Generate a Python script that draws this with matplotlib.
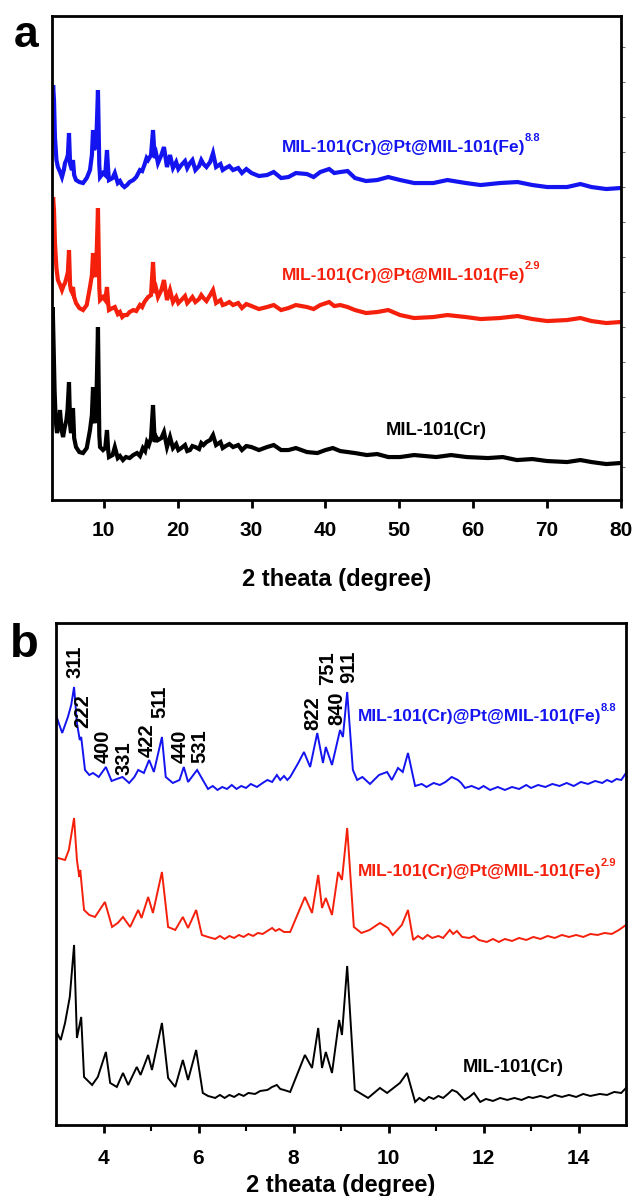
import numpy as np
import matplotlib.pyplot as plt

plt.rcParams['font.family'] = ['Liberation Sans', 'DejaVu Sans']
plt.rcParams['font.weight'] = 'bold'

BLUE = '#1414f0'
RED = '#f5200c'
BLACK = '#000000'

# ---- panel a : wide-angle scans (2theta 3-80), (2theta, intensity) ----
blue_a = [(3.0, 380), (3.15, 415), (3.27, 400), (3.4, 363), (3.6, 340), (3.8, 333), (4.1, 328),
          (4.35, 323), (4.6, 330), (4.76, 337), (4.95, 340), (5.15, 345), (5.3, 367), (5.45, 336),
          (5.57, 333), (5.7, 330), (5.84, 340), (6.0, 325), (6.25, 320), (6.7, 318), (7.2, 317),
          (7.7, 322), (8.14, 330), (8.4, 345), (8.55, 370), (8.7, 350), (8.82, 353), (9.0, 360),
          (9.22, 410), (9.4, 335), (9.5, 323), (9.9, 327), (10.2, 325), (10.44, 350), (10.6, 330),
          (10.71, 320), (11.2, 322), (11.5, 327), (11.9, 317), (12.2, 319), (12.5, 315), (12.8, 313),
          (13.15, 315), (13.5, 318), (14.0, 320), (14.4, 323), (14.9, 330), (15.2, 329), (15.5, 335),
          (15.8, 342), (16.0, 340), (16.4, 345), (16.67, 370), (16.9, 342), (17.1, 346), (17.34, 337),
          (17.8, 345), (18.15, 353), (18.56, 333), (18.97, 345), (19.37, 332), (19.8, 338), (20.1, 331),
          (20.5, 335), (21.0, 339), (21.3, 332), (21.67, 337), (22.0, 340), (22.4, 330), (22.9, 334),
          (23.2, 340), (23.5, 336), (23.9, 333), (24.4, 338), (24.79, 347), (25.2, 333), (25.8, 336),
          (26.1, 330), (26.5, 332), (27.0, 334), (27.5, 330), (28.2, 332), (28.7, 327), (29.3, 331),
          (30.0, 327), (31.0, 324), (32.1, 325), (33.0, 328), (34.0, 322), (35.0, 323), (36.0, 327),
          (37.5, 326), (38.4, 323), (39.3, 328), (40.5, 331), (41.2, 327), (42.0, 328), (43.0, 329),
          (44.0, 322), (45.5, 319), (47.0, 320), (48.5, 323), (50.1, 320), (52.0, 317), (54.6, 317),
          (56.5, 320), (59.0, 317), (61.0, 315), (63.6, 317), (66.0, 318), (68.0, 315), (70.0, 313),
          (72.7, 313), (74.5, 316), (76.0, 313), (78.0, 311), (79.9, 312)]

red_a = [(3.0, 285), (3.15, 303), (3.27, 290), (3.4, 257), (3.6, 232), (3.8, 220), (4.1, 215),
         (4.35, 210), (4.6, 215), (4.76, 217), (4.95, 222), (5.15, 228), (5.3, 250), (5.45, 215),
         (5.57, 210), (5.7, 208), (5.84, 213), (6.0, 203), (6.25, 197), (6.7, 192), (7.2, 190),
         (7.7, 195), (8.14, 213), (8.4, 225), (8.55, 247), (8.7, 228), (8.82, 223), (9.0, 235),
         (9.22, 292), (9.4, 212), (9.5, 200), (9.9, 203), (10.2, 200), (10.44, 213), (10.6, 197),
         (10.71, 190), (11.2, 192), (11.5, 193), (11.9, 186), (12.2, 188), (12.5, 183), (12.8, 185),
         (13.15, 185), (13.5, 188), (14.0, 190), (14.4, 189), (14.9, 195), (15.2, 193), (15.5, 198),
         (15.8, 201), (16.0, 203), (16.4, 205), (16.67, 238), (16.9, 207), (17.1, 211), (17.34, 203),
         (17.8, 210), (18.15, 220), (18.56, 200), (18.97, 210), (19.37, 198), (19.8, 203), (20.1, 197),
         (20.5, 200), (21.0, 204), (21.3, 197), (21.67, 200), (22.0, 203), (22.4, 198), (22.9, 201),
         (23.2, 205), (23.5, 202), (23.9, 199), (24.4, 205), (24.79, 210), (25.2, 197), (25.8, 200),
         (26.1, 195), (26.5, 196), (27.0, 198), (27.5, 195), (28.2, 197), (28.7, 192), (29.3, 196),
         (30.0, 194), (31.0, 191), (32.1, 193), (33.0, 195), (34.0, 190), (35.0, 192), (36.0, 195),
         (37.5, 193), (38.4, 191), (39.3, 195), (40.5, 198), (41.2, 194), (42.0, 195), (43.0, 193),
         (44.0, 190), (45.5, 187), (47.0, 188), (48.5, 190), (50.1, 185), (52.0, 182), (54.6, 183),
         (56.5, 185), (59.0, 183), (61.0, 181), (63.6, 182), (66.0, 184), (68.0, 181), (70.0, 179),
         (72.7, 180), (74.5, 182), (76.0, 179), (78.0, 177), (79.9, 178)]

black_a = [(3.0, 150), (3.1, 193), (3.2, 160), (3.35, 110), (3.5, 80), (3.68, 67), (3.9, 75),
           (4.08, 90), (4.3, 70), (4.5, 63), (4.7, 72), (4.95, 80), (5.1, 90), (5.3, 118), (5.45, 75),
           (5.57, 67), (5.7, 72), (5.84, 92), (6.0, 62), (6.25, 53), (6.7, 48), (7.2, 47), (7.7, 52),
           (8.14, 70), (8.4, 85), (8.55, 113), (8.7, 80), (8.82, 77), (9.0, 95), (9.22, 173),
           (9.4, 65), (9.5, 53), (9.9, 50), (10.2, 52), (10.44, 70), (10.6, 50), (10.71, 43),
           (11.2, 45), (11.5, 53), (11.9, 42), (12.2, 44), (12.6, 40), (13.0, 43), (13.5, 42),
           (14.0, 45), (14.5, 47), (14.9, 44), (15.3, 52), (15.6, 49), (15.85, 58), (16.1, 55),
           (16.4, 62), (16.67, 95), (16.9, 58), (17.1, 63), (17.34, 60), (17.8, 62), (18.15, 68),
           (18.56, 53), (18.97, 63), (19.37, 52), (19.8, 56), (20.1, 50), (20.5, 52), (21.0, 55),
           (21.3, 49), (21.67, 50), (22.0, 54), (22.4, 53), (22.9, 51), (23.2, 57), (23.5, 55),
           (23.9, 58), (24.4, 60), (24.79, 65), (25.2, 55), (25.8, 58), (26.1, 52), (26.5, 54),
           (27.0, 56), (27.5, 53), (28.2, 55), (28.7, 50), (29.3, 54), (30.0, 53), (31.0, 50),
           (32.1, 53), (33.0, 55), (34.0, 50), (35.0, 50), (36.0, 52), (37.5, 48), (38.9, 47),
           (40.0, 50), (41.0, 52), (42.0, 49), (43.0, 48), (44.0, 47), (45.6, 45), (47.0, 46),
           (48.5, 43), (50.1, 43), (52.0, 45), (55.0, 43), (57.0, 45), (59.1, 43), (62.0, 42),
           (64.0, 43), (65.9, 40), (68.0, 41), (70.0, 39), (72.7, 38), (74.5, 40), (76.0, 38),
           (78.0, 36), (79.9, 37)]

# ---- panel b : low-angle scans (2theta 3-15) ----
blue_b = [(3.02, 407), (3.13, 392), (3.25, 408), (3.32, 420), (3.38, 438), (3.44, 402), (3.5, 385),
          (3.53, 388), (3.61, 355), (3.7, 350), (3.78, 352), (3.9, 348), (4.05, 358), (4.17, 344),
          (4.28, 346), (4.4, 348), (4.54, 342), (4.65, 348), (4.73, 355), (4.85, 352), (4.96, 365),
          (5.06, 353), (5.23, 388), (5.31, 348), (5.46, 342), (5.6, 345), (5.69, 358), (5.78, 343),
          (5.97, 355), (6.2, 336), (6.3, 339), (6.4, 335), (6.5, 338), (6.6, 336), (6.7, 340),
          (6.8, 336), (6.9, 339), (7.0, 337), (7.1, 341), (7.23, 338), (7.35, 342), (7.45, 345),
          (7.55, 343), (7.65, 350), (7.72, 345), (7.8, 349), (7.87, 345), (7.93, 348), (8.1, 362),
          (8.22, 373), (8.35, 358), (8.5, 392), (8.62, 362), (8.68, 378), (8.81, 360), (8.98, 395),
          (9.04, 388), (9.13, 433), (9.25, 355), (9.34, 345), (9.45, 348), (9.61, 341), (9.8, 350),
          (9.97, 353), (10.07, 345), (10.2, 357), (10.3, 353), (10.41, 372), (10.56, 339),
          (10.7, 341), (10.8, 338), (10.95, 342), (11.08, 340), (11.2, 343), (11.33, 348),
          (11.46, 345), (11.53, 342), (11.61, 337), (11.75, 339), (11.9, 336), (12.0, 339),
          (12.14, 335), (12.3, 338), (12.45, 335), (12.6, 338), (12.75, 336), (12.9, 340),
          (13.0, 337), (13.15, 340), (13.3, 338), (13.45, 341), (13.6, 339), (13.75, 342),
          (13.9, 339), (14.05, 343), (14.2, 341), (14.35, 344), (14.5, 342), (14.6, 345),
          (14.7, 343), (14.8, 346), (14.9, 345), (15.0, 352)]

red_b = [(3.04, 267), (3.19, 265), (3.27, 275), (3.38, 307), (3.44, 265), (3.49, 248), (3.51, 255),
         (3.59, 215), (3.7, 210), (3.82, 208), (4.03, 223), (4.18, 198), (4.3, 202), (4.41, 208),
         (4.56, 198), (4.73, 215), (4.8, 207), (4.94, 228), (5.04, 212), (5.23, 253), (5.36, 198),
         (5.51, 195), (5.67, 208), (5.78, 197), (5.95, 215), (6.07, 190), (6.2, 188), (6.35, 186),
         (6.45, 189), (6.55, 186), (6.65, 189), (6.75, 187), (6.85, 190), (6.95, 188), (7.05, 191),
         (7.15, 189), (7.25, 192), (7.35, 191), (7.45, 194), (7.55, 197), (7.62, 194), (7.7, 196),
         (7.8, 193), (7.93, 193), (8.24, 228), (8.39, 212), (8.52, 250), (8.6, 217), (8.68, 227),
         (8.81, 210), (8.94, 253), (9.02, 245), (9.13, 297), (9.27, 198), (9.43, 192), (9.6, 195),
         (9.82, 202), (9.99, 197), (10.09, 190), (10.28, 200), (10.41, 215), (10.52, 185),
         (10.62, 189), (10.72, 186), (10.82, 190), (10.92, 187), (11.05, 189), (11.15, 187),
         (11.29, 195), (11.36, 191), (11.44, 194), (11.55, 188), (11.7, 187), (11.8, 189),
         (11.9, 185), (12.07, 183), (12.2, 186), (12.32, 183), (12.45, 186), (12.6, 184),
         (12.75, 187), (12.9, 185), (13.05, 188), (13.2, 186), (13.35, 189), (13.5, 187),
         (13.65, 190), (13.8, 188), (13.95, 190), (14.1, 188), (14.25, 191), (14.4, 190),
         (14.55, 192), (14.7, 191), (14.85, 195), (15.0, 200)]

black_b = [(3.02, 92), (3.1, 85), (3.19, 102), (3.29, 128), (3.38, 180), (3.44, 87), (3.53, 108),
           (3.59, 48), (3.76, 40), (3.88, 48), (4.05, 73), (4.14, 42), (4.28, 38), (4.41, 52),
           (4.52, 40), (4.7, 58), (4.78, 50), (4.94, 70), (5.02, 55), (5.23, 102), (5.36, 47),
           (5.51, 38), (5.67, 65), (5.78, 45), (5.95, 75), (6.09, 32), (6.2, 29), (6.35, 27),
           (6.45, 30), (6.55, 27), (6.65, 30), (6.75, 28), (6.85, 31), (6.95, 29), (7.05, 32),
           (7.19, 31), (7.3, 34), (7.45, 35), (7.55, 38), (7.65, 40), (7.72, 36), (7.8, 35),
           (7.93, 33), (8.24, 70), (8.39, 57), (8.52, 97), (8.6, 57), (8.68, 73), (8.81, 52),
           (8.96, 105), (9.02, 90), (9.13, 159), (9.29, 35), (9.57, 27), (9.82, 37), (9.97, 32),
           (10.24, 42), (10.39, 52), (10.56, 23), (10.65, 27), (10.75, 24), (10.85, 28), (10.95, 26),
           (11.05, 29), (11.15, 27), (11.25, 31), (11.34, 35), (11.44, 33), (11.52, 29), (11.6, 25),
           (11.7, 28), (11.8, 32), (11.93, 23), (12.05, 26), (12.2, 24), (12.35, 27), (12.5, 25),
           (12.65, 27), (12.8, 25), (12.95, 28), (13.04, 27), (13.2, 29), (13.35, 27), (13.5, 30),
           (13.65, 28), (13.8, 30), (13.95, 28), (14.1, 31), (14.25, 29), (14.45, 31), (14.6, 30),
           (14.75, 33), (14.9, 32), (15.0, 37)]

# Miller indices of the MIL-101 reflections: (label, 2theta, text base height)
hkl_labels = [('311', 3.40, 447), ('222', 3.57, 397), ('400', 4.00, 362), ('331', 4.43, 350),
              ('422', 4.92, 368), ('511', 5.19, 407), ('440', 5.61, 362), ('531', 6.03, 362),
              ('822', 8.41, 395), ('751', 8.71, 440), ('840', 8.92, 400), ('911', 9.17, 442)]

sample_core_shell = 'MIL-101(Cr)@Pt@MIL-101(Fe)'
sample_cr = 'MIL-101(Cr)'

fig = plt.figure(figsize=(6.38, 11.96), dpi=100)
ax_a = fig.add_axes([0.0815, 0.5819, 0.8919, 0.4047])
ax_b = fig.add_axes([0.0878, 0.0594, 0.8934, 0.4197])


def plot_scan(ax, pts, color, lw):
    xs = [p[0] for p in pts]
    ys = [p[1] for p in pts]
    ax.plot(xs, ys, color=color, lw=lw, solid_joinstyle='miter')


def style_axes(ax, pad):
    for sp in ax.spines.values():
        sp.set_linewidth(2.0)
    ax.tick_params(axis='x', which='major', direction='out', length=6, width=2,
                   labelsize=15, pad=pad)
    ax.tick_params(axis='x', which='minor', direction='out', length=4, width=1.5)
    ax.set_yticks([])
    for lab in ax.get_xticklabels():
        lab.set_fontweight('bold')


def sample_label(ax, x, y, text, sup, color, size=12.5):
    t = ax.text(x, y, text, color=color, fontsize=size, fontweight='bold',
                ha='left', va='center')
    if sup:
        ax.annotate(sup, xy=(1.0, 0.74), xycoords=t, xytext=(-0.5, 0),
                    textcoords='offset points', color=color, fontsize=8,
                    fontweight='bold', ha='left', va='bottom')


# panel a
plot_scan(ax_a, black_a, BLACK, 3.0)
plot_scan(ax_a, red_a, RED, 3.0)
plot_scan(ax_a, blue_a, BLUE, 3.0)
ax_a.set_xlim(3, 80)
ax_a.set_ylim(0, 484)
ax_a.set_xticks([10, 20, 30, 40, 50, 60, 70, 80])
style_axes(ax_a, pad=9)
ax_r = ax_a.secondary_yaxis('right')
ax_r.set_yticks(np.arange(33, 484, 35))
ax_r.tick_params(length=3, width=0.8, labelright=False, color='0.45')
ax_a.set_xlabel('2 theata (degree)', fontsize=17, fontweight='bold', labelpad=20)
sample_label(ax_a, 34.1, 353, sample_core_shell, '8.8', BLUE)
sample_label(ax_a, 34.1, 225, sample_core_shell, '2.9', RED)
sample_label(ax_a, 48.1, 70, sample_cr, None, BLACK, size=13.2)

# panel b
plot_scan(ax_b, black_b, BLACK, 1.4)
plot_scan(ax_b, red_b, RED, 1.4)
plot_scan(ax_b, blue_b, BLUE, 1.4)
ax_b.set_xlim(3, 15)
ax_b.set_ylim(0, 502)
ax_b.set_xticks([4, 6, 8, 10, 12, 14])
ax_b.set_xticks([5, 7, 9, 11, 13], minor=True)
style_axes(ax_b, pad=11)
ax_b.set_xlabel('2 theata (degree)', fontsize=17, fontweight='bold', labelpad=4.5)
for name, x, y in hkl_labels:
    ax_b.text(x, y, name, rotation=90, fontsize=14.5, fontweight='bold',
              ha='center', va='bottom', color=BLACK)
sample_label(ax_b, 9.35, 408, sample_core_shell, '8.8', BLUE)
sample_label(ax_b, 9.35, 253, sample_core_shell, '2.9', RED)
sample_label(ax_b, 11.57, 57, sample_cr, None, BLACK, size=13.2)

fig.text(0.022, 0.9707, 'a', fontsize=32, fontweight='bold', ha='left', va='center')
fig.text(0.016, 0.4605, 'b', fontsize=34, fontweight='bold', ha='left', va='center')

fig.savefig('out.png', dpi=100)
